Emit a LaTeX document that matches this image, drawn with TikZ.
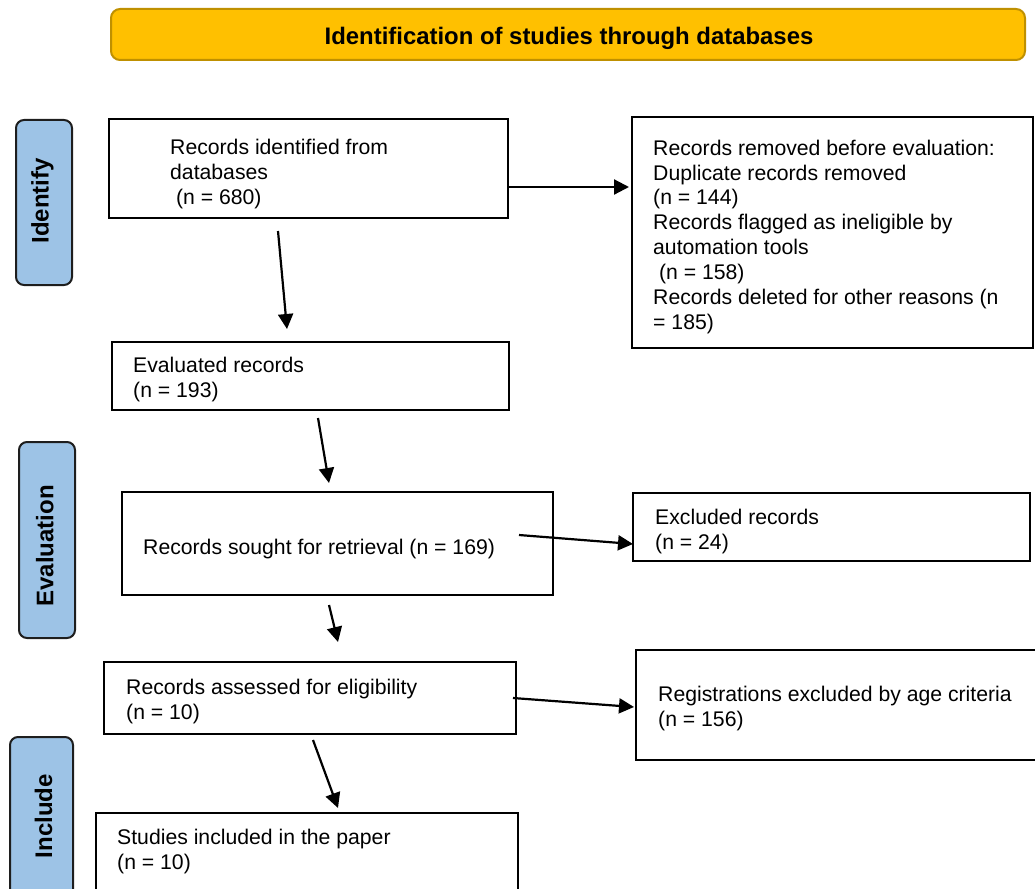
\documentclass[tikz,border=0pt]{standalone}
\usepackage{fontspec}
\setmainfont{Liberation Sans}
\usetikzlibrary{arrows.meta,fit}
\definecolor{gold}{HTML}{FFC000}
\definecolor{golddark}{HTML}{BF9000}
\definecolor{sideblue}{HTML}{9DC3E6}
\definecolor{sideedge}{HTML}{1E1E1E}
\begin{document}
\begin{tikzpicture}[x=1pt,y=-1pt,
  box/.style={draw=black, line width=2.5pt, inner sep=0pt},
  side/.style={draw=sideedge, fill=sideblue, line width=2pt, rounded corners=8pt, inner sep=0pt},
  banner/.style={draw=golddark, fill=gold, line width=2pt, rounded corners=9pt, inner sep=0pt},
  txt/.style={anchor=north west, inner sep=0pt, align=left, font=\fontsize{21.2}{24.9}\selectfont},
  vlabel/.style={rotate=90, inner sep=0pt, font=\bfseries\fontsize{24}{28}\selectfont},
  arr/.style={line width=2.2pt, -{Triangle[length=15pt,width=15pt]}}]
\useasboundingbox (0,0) rectangle (1035,888);
\clip (0,0) rectangle (1035,888);

% banner
\node[banner, fit={(111,9) (1025,60)}] (title) {};
\node[anchor=base, inner sep=0pt, font=\bfseries\fontsize{23.9}{28}\selectfont] (titletext) at (569,45) {Identification of studies through databases};

% side labels
\node[side, fit={(16,120) (72,285)}] (sid) {};
\node[vlabel] (sidt) at (42.5,201) {Identify};
\node[side, fit={(19,442) (75,638)}] (sev) {};
\node[vlabel] (sevt) at (44.7,546) {Evaluation};
\node[side, fit={(10,737) (73,905)}] (sin) {};
\node[vlabel] (sint) at (43.5,816) {Include};

% boxes
\node[box, fit={(109,119) (508,218)}] (b1) {};
\node[txt] (t1) at (170,139) {Records identified from\\databases\\\hspace*{5.9pt}(n = 680)};

\node[box, fit={(632,117) (1033,348)}] (b2) {};
\node[txt] (t2) at (653,139.6) {Records removed before evaluation:\\Duplicate records removed\\(n = 144)\\Records flagged as ineligible by\\automation tools\\\hspace*{5.9pt}(n = 158)\\Records deleted for other reasons (n\\= 185)};

\node[box, fit={(112,342) (509,410)}] (b3) {};
\node[txt] (t3) at (133,357) {Evaluated records\\(n = 193)};

\node[box, fit={(122,492) (553,595)}] (b4) {};
\node[txt] (t4) at (143,539) {Records sought for retrieval (n = 169)};

\node[box, fit={(633,493) (1030,561)}] (b5) {};
\node[txt] (t5) at (655,509) {Excluded records\\(n = 24)};

\node[box, fit={(104,662) (516,734)}] (b6) {};
\node[txt] (t6) at (126,679) {Records assessed for eligibility\\(n = 10)};

\node[box, fit={(636,650) (1045,760)}] (b7) {};
\node[txt] (t7) at (658,686) {Registrations excluded by age criteria\\(n = 156)};

\node[box, fit={(96,813) (518,905)}] (b8) {};
\node[txt] (t8) at (117,829) {Studies included in the paper\\(n = 10)};

% connector end points
\coordinate (a1s) at (508,187);  \coordinate (a1e) at (629,187);
\coordinate (a2s) at (278,231);  \coordinate (a2e) at (287,329);
\coordinate (a3s) at (318,418);  \coordinate (a3e) at (329,483);
\coordinate (a4s) at (519,535);  \coordinate (a4e) at (633,544);
\coordinate (a5s) at (329,605);  \coordinate (a5e) at (338,642);
\coordinate (a6s) at (513,698);  \coordinate (a6e) at (634,707);
\coordinate (a7s) at (313,740);  \coordinate (a7e) at (338,808);

\draw[arr] (a1s) -- (a1e);
\draw[arr] (a2s) -- (a2e);
\draw[arr] (a3s) -- (a3e);
\draw[arr] (a4s) -- (a4e);
\draw[arr] (a5s) -- (a5e);
\draw[arr] (a6s) -- (a6e);
\draw[arr] (a7s) -- (a7e);
\end{tikzpicture}
\end{document}
